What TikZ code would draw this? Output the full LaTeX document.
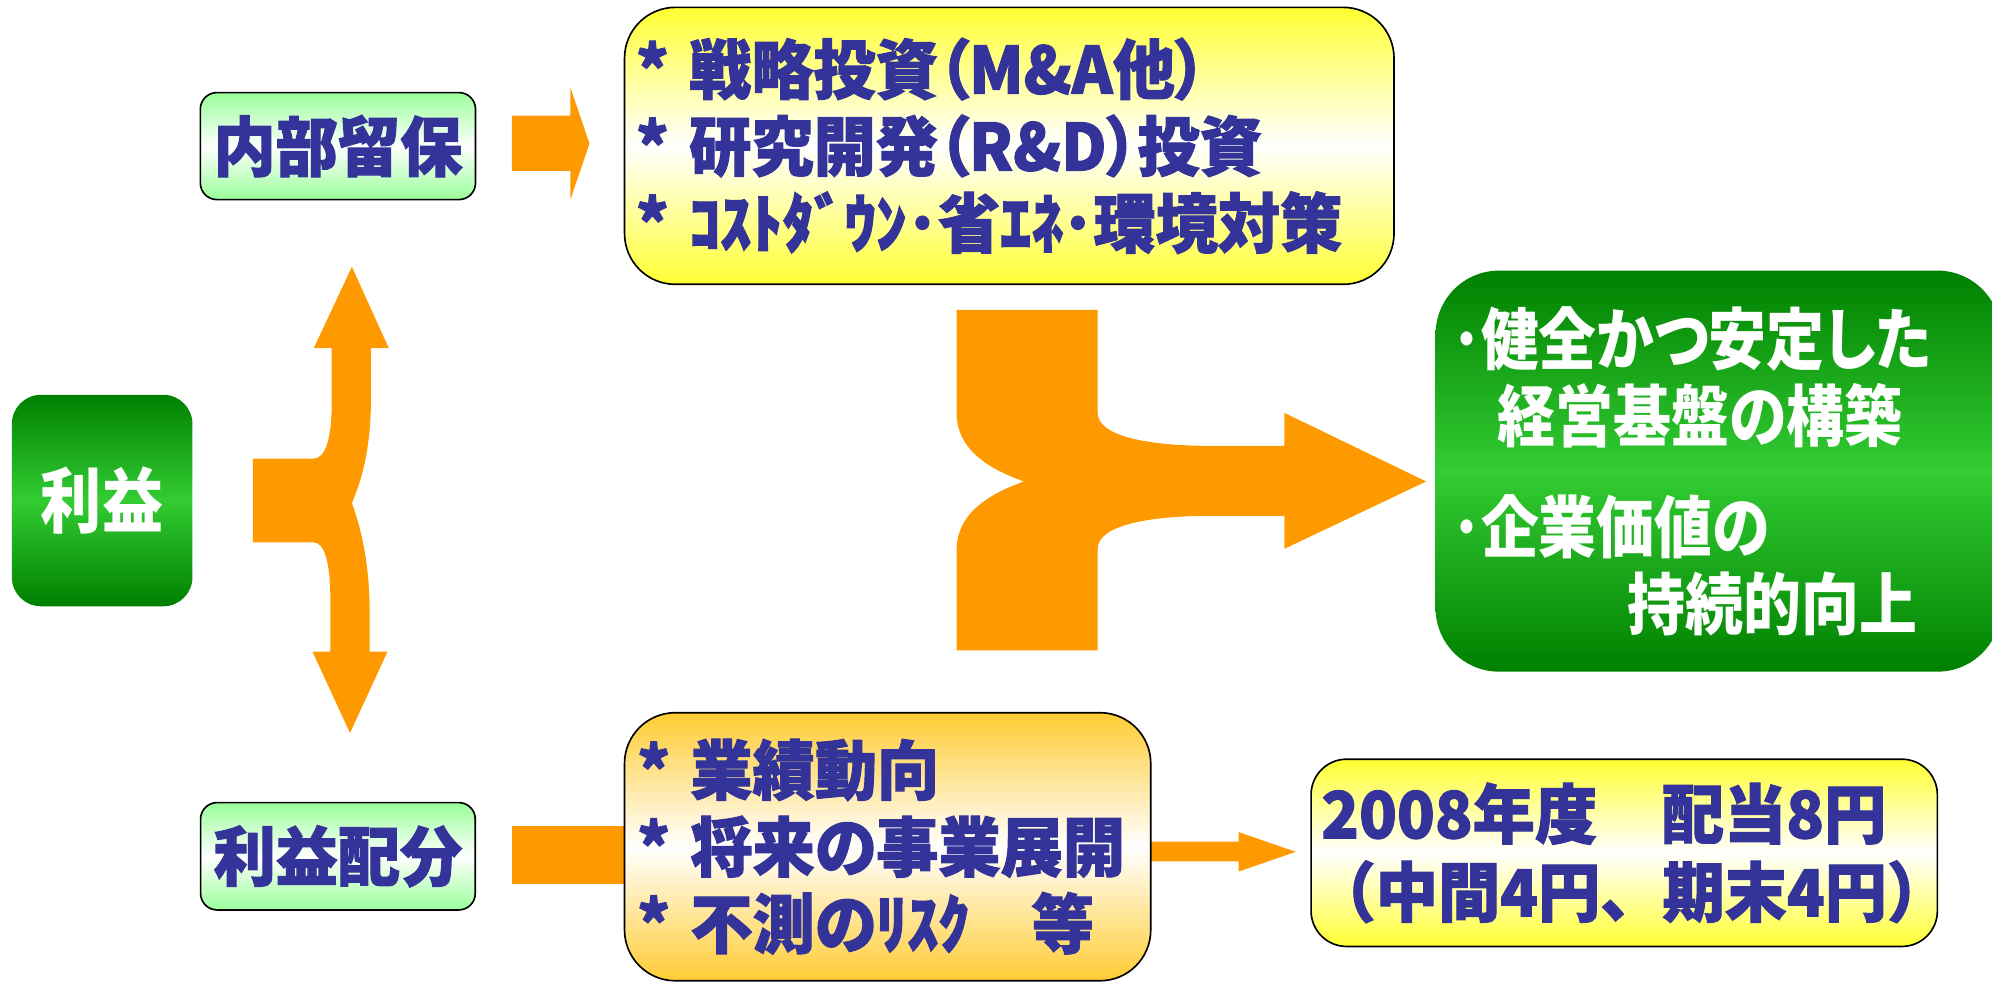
\documentclass[tikz,border=0pt]{standalone}
\usepackage{fontspec}
\newfontfamily\jpb[FakeStretch=0.96,RawFeature={+palt},BoldFeatures={FakeBold=1.6}]{Noto Sans CJK JP}
\newfontfamily\jpf[FakeStretch=0.96,BoldFeatures={FakeBold=1.6}]{Noto Sans CJK JP}
\newfontfamily\jpw[FakeStretch=0.86,RawFeature={+palt}]{Noto Sans CJK JP}
\newcommand{\bulletast}{{*}\hspace{16pt}}
\definecolor{orng}{HTML}{FF9900}
\definecolor{navy}{HTML}{333399}
\definecolor{dgreen}{HTML}{008000}
\definecolor{lgreen}{HTML}{33CC33}
\definecolor{pgreen}{HTML}{99FF99}
\definecolor{ylw}{HTML}{FFFF33}
\definecolor{gold}{HTML}{FFCC33}
\tikzset{
  blockarrow/.style={fill=orng, draw=none},
  boxbase/.style={draw=black, line width=1.3pt, inner sep=0pt, text=navy,
    font=\jpb\bfseries\fontsize{51}{60.5}\selectfont},
  lightbox/.style={boxbase, rounded corners=13pt, top color=pgreen, bottom color=pgreen, middle color=white},
  yellowbox/.style={boxbase, top color=ylw, bottom color=ylw, middle color=white, align=left},
  goldbox/.style={boxbase, top color=gold, bottom color=gold, middle color=white, align=left},
  greenbox/.style={draw=none, inner sep=0pt, text=white, top color=dgreen, bottom color=dgreen, middle color=lgreen}
}
\begin{document}
\begin{tikzpicture}[x=1pt, y=-1pt]
\useasboundingbox (0,0) rectangle (1568,773);
% arrows behind boxes
\fill[blockarrow] (403,91) -- (449,91) -- (449,69) -- (464,113) -- (449,157) -- (449,134.5) -- (403,134.5) -- cycle;
\fill[blockarrow] (199,361) -- (247,361) .. controls (256,361) and (261,345) .. (261,320) -- (261,274) -- (247,274) -- (277,210) -- (306,274) -- (292,274) -- (292,313)
  .. controls (292,350) and (286,375) .. (277,396) .. controls (285,418) and (291,445) .. (291,484) -- (291,513) -- (305,513) -- (275.5,577) -- (246,513) -- (260,513) -- (260,471)
  .. controls (260,445) and (256,427) .. (247,427) -- (199,427) -- cycle;
\fill[blockarrow] (753,244) -- (864,244) -- (864,325) .. controls (864,342) and (898,351) .. (955,351) -- (1011,351) -- (1011,325) -- (1122.6,379) -- (1011,432) -- (1011,406) -- (955,406)
  .. controls (898,406) and (864,415) .. (864,432) -- (864,512) -- (753,512) -- (753,433) .. controls (753,406) and (775,390) .. (806,379) .. controls (775,368) and (753,352) .. (753,325) -- cycle;
\fill[blockarrow] (403,650) rectangle (493,696);
\fill[blockarrow] (905,662.5) -- (975,662.5) -- (975,655) -- (1020,670.5) -- (975,686) -- (975,678) -- (905,678) -- cycle;
% boxes
\node[greenbox, rounded corners=23pt, minimum width=142.2pt, minimum height=166.5pt, font=\jpw\bfseries\fontsize{56}{60}\selectfont] (rieki) at (80.4,394) {利益};
\node[lightbox, minimum width=216.6pt, minimum height=84.2pt] (naibu) at (266,115) {内部留保};
\node[lightbox, minimum width=216.2pt, minimum height=84.5pt] (haibun) at (266,674) {利益配分};
\node[yellowbox, rounded corners=40pt, minimum width=605.7pt, minimum height=218pt, inner xsep=9pt, text width=587.7pt] (invest) at (794.45,114.8)
  {\bulletast 戦略投資（M\&A他）\\\bulletast 研究開発（R\&D）投資\\\bulletast ｺｽﾄﾀﾞｳﾝ･省ｴﾈ･環境対策};
\node[goldbox, rounded corners=40pt, minimum width=414.2pt, minimum height=211pt, inner xsep=10pt, text width=394.2pt] (factors) at (698.7,666.5)
  {\bulletast 業績動向\\\bulletast 将来の事業展開\\\bulletast 不測のﾘｽｸ　等};
\node[yellowbox, rounded corners=28pt, minimum width=493pt, minimum height=147.4pt, inner xsep=8pt, text width=477pt, font=\jpb\bfseries\fontsize{51}{61.5}\selectfont] (div) at (1278.5,671.3)
  {2008年度　\hspace{2pt}配当8円\\{\jpf\bfseries\hspace*{-6pt}（中間4円、期末4円）}};
\node[greenbox, rounded corners=50pt, minimum width=445pt, minimum height=315.7pt, inner xsep=13pt, text width=419pt, align=left, font=\jpw\bfseries\fontsize{53}{61}\selectfont] (goal) at (1352.5,370.85)
  {･健全かつ安定した\\\hspace*{36pt}経営基盤の構築\\[26pt]･企業価値の\\\hspace*{138pt}持続的向上};
\end{tikzpicture}
\end{document}
